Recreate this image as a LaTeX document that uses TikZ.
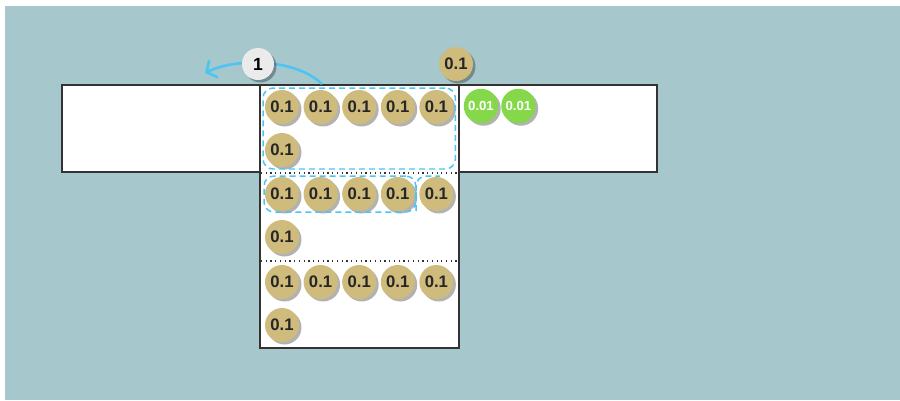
\documentclass[tikz,border=0pt]{standalone}
\usepackage{fontspec}
\setmainfont{Liberation Sans}
\usepackage{xcolor}
\usepackage{tikz}
\usetikzlibrary{arrows.meta, positioning, fit, shadows}

\definecolor{tealbg}{HTML}{A6C8CC}
\definecolor{coingold}{HTML}{CFBB7B}
\definecolor{coingreen}{HTML}{84D84A}
\definecolor{arcblue}{HTML}{4DC4F2}
\definecolor{labelgray}{HTML}{EBEBEB}
\definecolor{boxline}{HTML}{333333}

\begin{document}
\begin{tikzpicture}[
    x=0.02cm, y=-0.02cm,
    node distance=0.092cm,
    coinshadow/.style={drop shadow={shadow xshift=0.05cm, shadow yshift=-0.05cm, fill=black, opacity=0.3}},
    coin/.style={circle, fill=coingold, minimum size=0.68cm, inner sep=0pt, outer sep=0pt,
      font=\fontsize{9.5}{10}\selectfont\bfseries, text=black!85, coinshadow},
    smallcoin/.style={circle, fill=coingreen, minimum size=0.69cm, inner sep=0pt, outer sep=0pt,
      font=\fontsize{7.5}{8}\selectfont\bfseries, text=white, coinshadow},
    steplabel/.style={circle, fill=labelgray, minimum size=0.64cm, inner sep=0pt,
      font=\fontsize{10}{10}\selectfont\bfseries, coinshadow},
    boxborder/.style={draw=boxline, line width=1.1pt, fill=white},
    rowsep/.style={draw=boxline, line width=0.7pt, dotted},
    group/.style={draw=arcblue, line width=0.85pt, dash pattern=on 3.4pt off 2.3pt, rounded corners=0.2cm}
  ]
  % background
  \useasboundingbox (0,0) rectangle (900,400);
  \fill[white] (0,0) rectangle (900,400);
  \fill[tealbg] (5,6) rectangle (900,400);

  % table and column
  \draw[boxborder] (62,85) rectangle (657,172);
  \draw[boxborder] (260,85) rectangle (459,348);
  \draw[rowsep] (261,173) -- (458,173);
  \draw[rowsep] (261,261) -- (458,261);

  % coins in the column
  \node[coin] (c11) at (282,107) {0.1};
  \node[coin, right=of c11] (c12) {0.1};
  \node[coin, right=of c12] (c13) {0.1};
  \node[coin, right=of c13] (c14) {0.1};
  \node[coin, right=of c14] (c15) {0.1};
  \node[coin] (c21) at (282,150) {0.1};

  \node[coin] (c31) at (282,194) {0.1};
  \node[coin, right=of c31] (c32) {0.1};
  \node[coin, right=of c32] (c33) {0.1};
  \node[coin, right=of c33] (c34) {0.1};
  \node[coin, right=of c34] (c35) {0.1};
  \node[coin] (c41) at (282,237) {0.1};

  \node[coin] (c51) at (282,282) {0.1};
  \node[coin, right=of c51] (c52) {0.1};
  \node[coin, right=of c52] (c53) {0.1};
  \node[coin, right=of c53] (c54) {0.1};
  \node[coin, right=of c54] (c55) {0.1};
  \node[coin] (c61) at (282,325) {0.1};

  % coins outside
  \node[coin] (ctop) at (456,64) {0.1};
  \node[smallcoin] (g1) at (481,106) {0.01};
  \node[smallcoin, right=0.06cm of g1] (g2) {0.01};

  % dashed groups
  \node[group, fit=(c11)(c15)(c21), inner sep=0.04cm] (grp1) {};
  \node[group, fit=(c31)(c34), inner sep=0.02cm] (grp2) {};
  \draw[group] (416,211) -- (416,176) -- (440,176);

  % move arrow
  \coordinate (arcstart) at (322,84);
  \coordinate (arcend) at (205,73);
  \draw[arcblue, line width=1.5pt, -{Straight Barb[length=4.5pt, width=11pt]}]
    (arcstart) .. controls (295,58) and (235,58) .. (arcend);
  \node[steplabel] (step1) at (258,64) {1};
\end{tikzpicture}
\end{document}
